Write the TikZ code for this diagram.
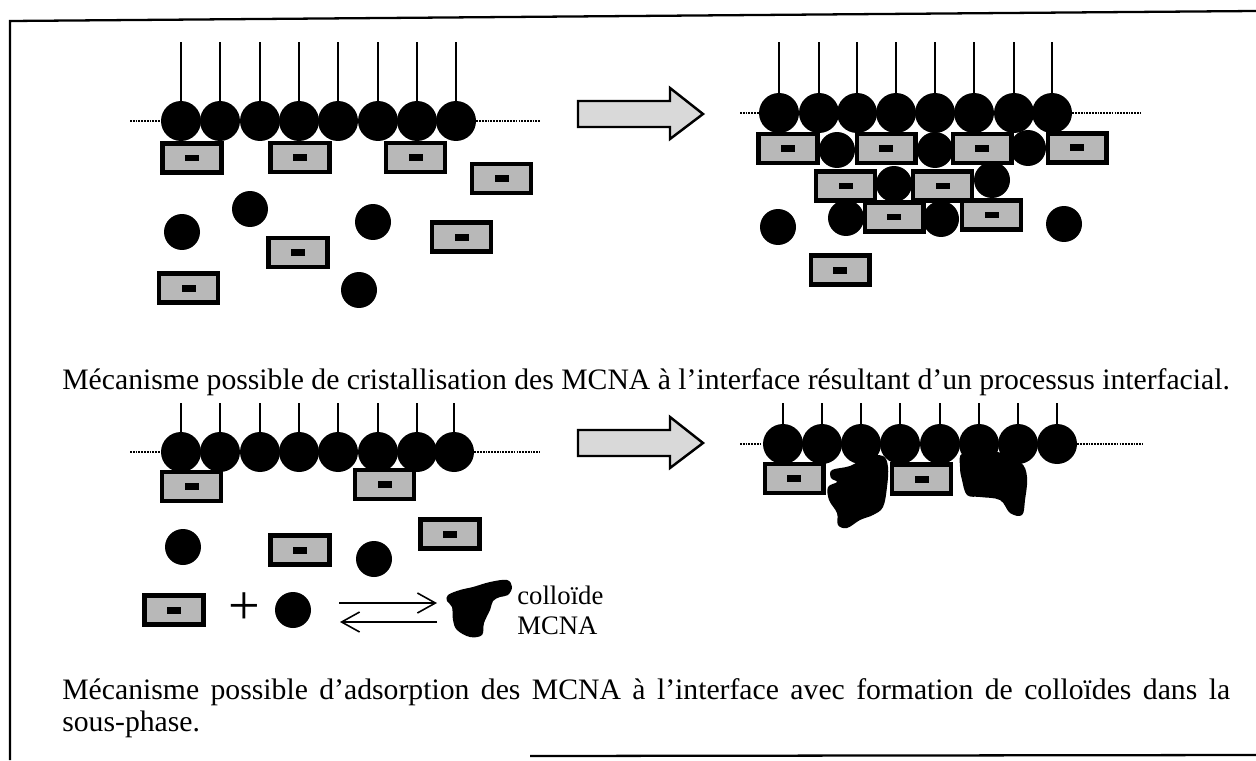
\documentclass[tikz,border=0pt]{standalone}
\usepackage{fontspec}
\setmainfont{Liberation Serif}
\usetikzlibrary{arrows.meta}
\begin{document}
\begin{tikzpicture}[x=0.02cm,y=-0.02cm,
  head/.style={circle,fill=black,inner sep=0pt,minimum size=0.8cm},
  ball/.style={circle,fill=black,inner sep=0pt,minimum size=0.72cm},
  ionbox/.style={rectangle,draw=black,line width=2.3pt,fill=black!28,inner sep=0pt,minimum width=1.18cm,minimum height=0.58cm},
  core/.style={rectangle,fill=black,inner sep=0pt,minimum width=0.28cm,minimum height=0.14cm},
  tail/.style={line width=1.1pt},
  surface/.style={line width=0.7pt,dash pattern=on 1pt off 0.6pt},
  blockarrow/.style={draw=black,line width=1.4pt,fill=black!15,line join=miter},
  colloid/.style={fill=black},
  eqarrow/.style={line width=0.9pt,-{Straight Barb[length=0.36cm,width=0.4cm,line width=0.9pt]}},
  captext/.style={font=\fontsize{16.9}{19}\selectfont,anchor=base west,inner sep=0pt},
  legtext/.style={font=\fontsize{15.2}{17}\selectfont,anchor=base west,inner sep=0pt},
]
\useasboundingbox (0,0) rectangle (1256,760);

% frame
\draw[line width=1.3pt] (1256,11) -- (10,21) -- (10,760);
\draw[line width=1.3pt] (530,756) -- (1256,755);

% an ion: framed stippled box with a dark core
\newcommand\ionat[3]{\node[ionbox] (#1) at (#2,#3) {}; \node[core] (#1c) at (#1.center) {};}

% ---------- top left: monolayer before crystallisation ----------
\foreach \i/\x in {1/181,2/220,3/260,4/299,5/338,6/378,7/417,8/456}{
  \node[head] (a\i) at (\x,121) {};
  \coordinate (at\i) at (\x,42);
  \draw[tail] (a\i) -- (at\i);
}
\coordinate (asl) at (130,121); \coordinate (asr) at (540,121);
\draw[surface] (asl) -- (a1.west);
\draw[surface] (a8.east) -- (asr);
\ionat{ai1}{192}{158}
\ionat{ai2}{300}{157.5}
\ionat{ai3}{415.5}{157.5}
\ionat{ai4}{501.5}{178.5}
\ionat{ai5}{461.5}{237}
\ionat{ai6}{298}{252.5}
\ionat{ai7}{188.5}{288}
\node[ball] (ab1) at (182,232) {};
\node[ball] (ab2) at (250,209) {};
\node[ball] (ab3) at (373,222) {};
\node[ball] (ab4) at (359,290) {};

% block arrow (top)
\draw[blockarrow] (578,101) -- (670,101) -- (670,88) -- (703,114) -- (670,139) -- (670,127) -- (578,127) -- cycle;

% ---------- top right: crystallised layer ----------
\foreach \i/\x in {1/779,2/819,3/857,4/896,5/935,6/974,7/1014,8/1052}{
  \node[head] (b\i) at (\x,113) {};
  \coordinate (bt\i) at (\x,42);
  \draw[tail] (b\i) -- (bt\i);
}
\coordinate (bsl) at (740,113); \coordinate (bsr) at (1140,113);
\draw[surface] (bsl) -- (b1.west);
\draw[surface] (b8.east) -- (bsr);
\ionat{bi1}{788}{148.5}
\ionat{bi2}{886}{148.5}
\ionat{bi3}{982}{148.5}
\ionat{bi4}{1077}{148}
\node[ball] (bb1) at (837,150) {};
\node[ball] (bb2) at (935,150) {};
\node[ball] (bb3) at (1028,148) {};
\ionat{bi5}{845.5}{186}
\ionat{bi6}{942.5}{186}
\node[ball] (bb4) at (894,184) {};
\node[ball] (bb5) at (992,180) {};
\ionat{bi7}{894}{217}
\ionat{bi8}{991.5}{215}
\node[ball] (bb6) at (846,218) {};
\node[ball] (bb7) at (941,219) {};
\node[ball] (bb8) at (778,227) {};
\node[ball] (bb9) at (1064,224) {};
\ionat{bi9}{840}{270}

\node[captext] (cap1) at (62,389) {Mécanisme possible de cristallisation des MCNA à l’interface résultant d’un processus interfacial.};

% ---------- bottom left: monolayer before adsorption ----------
\foreach \i/\x in {1/181,2/220,3/260,4/299,5/338,6/378,7/417,8/454}{
  \node[head] (c\i) at (\x,452) {};
  \coordinate (ct\i) at (\x,403);
  \draw[tail] (c\i) -- (ct\i);
}
\coordinate (csl) at (130,452); \coordinate (csr) at (540,452);
\draw[surface] (csl) -- (c1.west);
\draw[surface] (c8.east) -- (csr);
\ionat{ci1}{191.5}{486.5}
\ionat{ci2}{384.5}{484.5}
\ionat{ci3}{450}{534}
\ionat{ci4}{300}{550}
\node[ball] (cb1) at (183,547) {};
\node[ball] (cb2) at (374,559) {};

% equilibrium: ion + ball <=> colloid
\ionat{ei}{174}{610}
\node[inner sep=0pt,font=\fontsize{32}{32}\selectfont] (plus) at (244,609) {+};
\node[ball] (eb) at (293,610) {};
\coordinate (ef1) at (339,603); \coordinate (ef2) at (437,603);
\coordinate (er1) at (437,622); \coordinate (er2) at (340,622);
\draw[eqarrow] (ef1) -- (ef2);
\draw[eqarrow] (er1) -- (er2);
\fill[colloid] plot[smooth cycle,tension=0.6] coordinates {
  (448,595) (460,590) (473,587) (490,582) (507,580) (512,587) (508,595)
  (500,597) (493,601) (490,610) (484,623) (482,635) (470,637) (457,630)
  (453,620) (452,607) (447,601)};
\node[legtext] (ecol) at (517,604) {colloïde};
\node[legtext] (emcna) at (517,634) {MCNA};

% block arrow (bottom)
\draw[blockarrow] (578,430) -- (670,430) -- (670,417) -- (703,443) -- (670,468) -- (670,456) -- (578,456) -- cycle;

% ---------- bottom right: adsorbed layer with colloids ----------
\foreach \i/\x in {1/783,2/822,3/861,4/900,5/940,6/979,7/1018,8/1057}{
  \node[head] (d\i) at (\x,444) {};
  \coordinate (dt\i) at (\x,403);
  \draw[tail] (d\i) -- (dt\i);
}
\coordinate (dsl) at (740,444); \coordinate (dsr) at (1143,444);
\draw[surface] (dsl) -- (d1.west);
\draw[surface] (d8.east) -- (dsr);
\ionat{di1}{794}{478.5}
\ionat{di2}{921.5}{479}
\fill[colloid] plot[smooth cycle,tension=0.6] coordinates {
  (832,470) (850,466) (867,457) (883,456) (888,467) (887,487) (883,507)
  (873,515) (860,520) (847,528) (838,525) (837,513) (829,500) (828,487)
  (837,482) (831,478)};
\fill[colloid] plot[smooth cycle,tension=0.6] coordinates {
  (963,453) (993,451) (1020,462) (1027,477) (1025,500) (1022,515)
  (1010,513) (1000,500) (980,497) (967,495) (962,480) (960,467)};

\node[captext] (cap2a) at (62,699) {\makebox[23.36cm][s]{Mécanisme possible d’adsorption des MCNA à l’interface avec formation de colloïdes dans la}};
\node[captext] (cap2b) at (62,731) {sous-phase.};
\end{tikzpicture}
\end{document}
